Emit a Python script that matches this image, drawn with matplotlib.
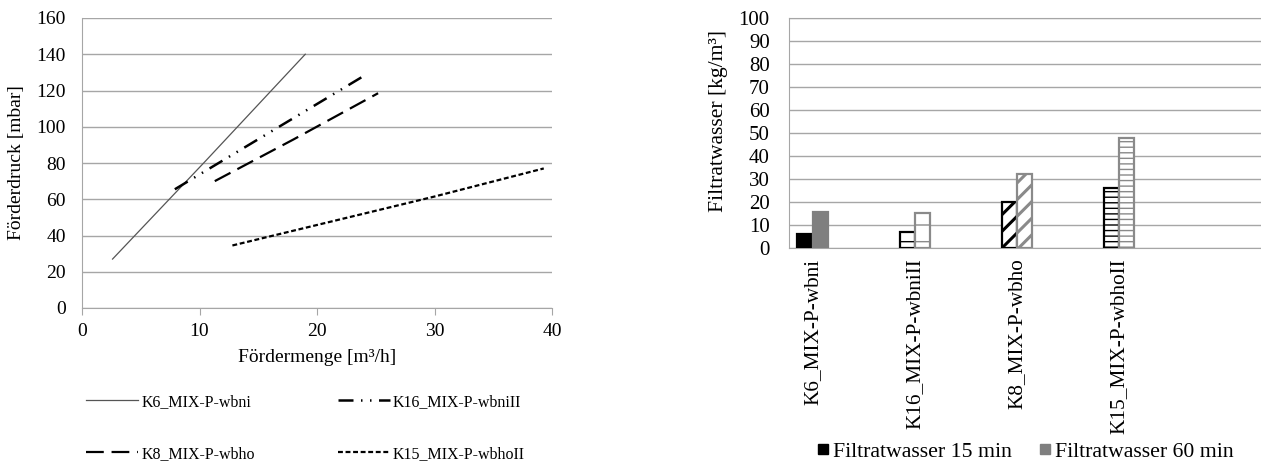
import matplotlib
matplotlib.use("Agg")
import matplotlib.pyplot as plt
from matplotlib.lines import Line2D
import numpy as np

plt.rcParams['font.family'] = ['Liberation Serif', 'DejaVu Serif']

# ---- left chart data (Fördermenge vs Förderdruck) ----
k6_x = [2.6, 10.5, 19.0]
k6_y = [27, 81, 140]
k16_x = [7.9, 16.0, 24.1]
k16_y = [65.5, 97, 128.5]
k8_x = [11.3, 18.0, 25.2]
k8_y = [70, 93, 118.5]
k15_x = [12.8, 30.0, 39.3]
k15_y = [34.5, 61.5, 77]
line_labels = ["K6_MIX-P-wbni", "K16_MIX-P-wbniII", "K8_MIX-P-wbho", "K15_MIX-P-wbhoII"]

# ---- right chart data (Filtratwasser) ----
categories = ["K6_MIX-P-wbni", "K16_MIX-P-wbniII", "K8_MIX-P-wbho", "K15_MIX-P-wbhoII"]
filt15 = [6.3, 6.8, 20.1, 26.0]
filt60 = [15.8, 15.3, 32.2, 47.7]
series_labels = ["Filtratwasser 15 min", "Filtratwasser 60 min"]

W, H = 1261, 466
fig = plt.figure(figsize=(W / 100, H / 100), dpi=100)

grid_c = '#a6a6a6'

# ================= left =================
axL = fig.add_axes([82 / W, 1 - 308 / H, 470 / W, 290 / H])
axL.plot(k6_x, k6_y, color='#555555', lw=0.9, label=line_labels[0])
axL.plot(k16_x, k16_y, color='black', lw=1.8, dashes=(6, 3, 0.6, 3, 0.6, 3), label=line_labels[1])
axL.plot(k8_x, k8_y, color='black', lw=1.6, dashes=(8, 3.5), label=line_labels[2])
axL.plot(k15_x, k15_y, color='black', lw=1.6, dashes=(2.2, 1.2), label=line_labels[3])
axL.set_xlim(0, 40)
axL.set_ylim(0, 160)
axL.set_xticks([0, 10, 20, 30, 40])
axL.set_yticks(np.arange(0, 161, 20))
axL.grid(axis='y', color=grid_c, lw=1)
axL.set_axisbelow(True)
for s in ['top', 'right']:
    axL.spines[s].set_visible(False)
for s in ['left', 'bottom']:
    axL.spines[s].set_color(grid_c)
axL.tick_params(axis='y', length=0, labelsize=14, pad=11.5)
axL.tick_params(axis='x', length=5, color=grid_c, labelsize=14, pad=6, direction='out')
axL.set_xlabel("Fördermenge [m³/h]", fontsize=14, labelpad=6)
axL.set_ylabel("Förderdruck [mbar]", fontsize=14, labelpad=8)

hs, ls = axL.get_legend_handles_labels()
order = [0, 2, 1, 3]
fig.legend([hs[i] for i in order], [ls[i] for i in order], ncol=2, frameon=False,
           loc='upper left', bbox_to_anchor=(86 / W, 1 - 394 / H), borderpad=0, borderaxespad=0,
           fontsize=11.5, handlelength=3.25, handletextpad=0.2, columnspacing=5.2, labelspacing=2.25)

# ================= right =================
axR = fig.add_axes([788.5 / W, 1 - 248 / H, (W - 788.5) / W, 230 / H])
x = np.arange(len(categories))
bw = 0.148
styles15 = [dict(color='black', edgecolor='black', hatch=None),
            dict(color='white', edgecolor='black', hatch='-'),
            dict(color='white', edgecolor='black', hatch='//'),
            dict(color='white', edgecolor='black', hatch='---')]
styles60 = [dict(color='#7f7f7f', edgecolor='#7f7f7f', hatch=None),
            dict(color='white', edgecolor='#8a8a8a', hatch='-'),
            dict(color='white', edgecolor='#8a8a8a', hatch='//'),
            dict(color='white', edgecolor='#8a8a8a', hatch='---')]
hlw = [1.0, 1.0, 2.2, 1.0]
for i in range(len(categories)):
    with plt.rc_context({'hatch.linewidth': hlw[i]}):
        axR.bar(x[i] - bw / 2, filt15[i], bw, linewidth=1.6, zorder=3, **styles15[i])
        axR.bar(x[i] + bw / 2, filt60[i], bw, linewidth=1.6, zorder=3, **styles60[i])
axR.set_xlim(-0.235, 4.39)
axR.set_ylim(0, 100)
axR.set_yticks(np.arange(0, 101, 10))
axR.set_xticks(x)
axR.set_xticklabels(categories, rotation=90, fontsize=15.3)
axR.grid(axis='y', color=grid_c, lw=1)
axR.set_axisbelow(True)
axR.spines['right'].set_visible(False)
for s in ['left', 'bottom', 'top']:
    axR.spines[s].set_color(grid_c)
axR.tick_params(axis='y', length=0, labelsize=15, pad=13.5)
axR.tick_params(axis='x', length=0, pad=7.5)
axR.set_ylabel("Filtratwasser [kg/m³]", fontsize=15.6)
axR.yaxis.set_label_coords(-0.128, 0.55)

rh = [Line2D([], [], marker='s', ls='none', color='black', markersize=7.2),
      Line2D([], [], marker='s', ls='none', color='#7f7f7f', markersize=7.2)]
fig.legend(rh, series_labels, ncol=2, frameon=False, loc='center left',
           bbox_to_anchor=(816.5 / W, 1 - 452 / H), borderpad=0, borderaxespad=0,
           fontsize=15.7, handlelength=0.6, handletextpad=0.15, columnspacing=1.24)

fig.savefig("out.png", dpi=100)
